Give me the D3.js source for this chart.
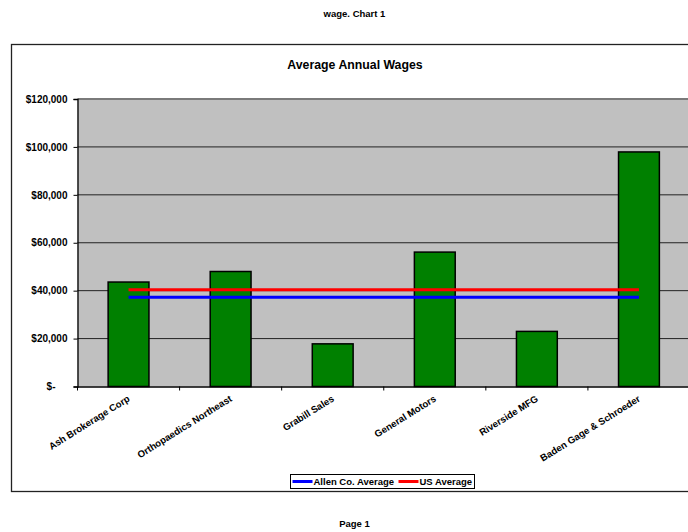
<!DOCTYPE html>
<html>
<head>
<meta charset="utf-8">
<script src="https://cdn.jsdelivr.net/npm/d3@7"></script>
<style>
  body { margin: 0; background: #fff; }
  svg { display: block; font-family: "Liberation Sans", Arial, sans-serif; }
</style>
</head>
<body>
<div id="chart"></div>
<script>
// data
const companies = ["Ash Brokerage Corp", "Orthopaedics Northeast", "Grabill Sales", "General Motors", "Riverside MFG", "Baden Gage & Schroeder"];
const wages = [43600, 48000, 17800, 56100, 23000, 97900];
const allenAvg = [37300, 37300, 37300, 37300, 37300, 37300];
const usAvg = [40400, 40400, 40400, 40400, 40400, 40400];
const yTicks = [0, 20000, 40000, 60000, 80000, 100000, 120000];

const width = 688;
const height = 532;

const svg = d3.select("#chart")
    .append("svg")
    .attr("width", width)
    .attr("height", height);

// page header / footer
svg.append("text")
    .attr("x", 354.5).attr("y", 17)
    .attr("text-anchor", "middle")
    .style("font-size", "9.5px").style("font-weight", "bold")
    .text("wage. Chart 1");

svg.append("text")
    .attr("x", 354.5).attr("y", 526.5)
    .attr("text-anchor", "middle")
    .style("font-size", "9.5px").style("font-weight", "bold")
    .text("Page 1");

// chart frame
svg.append("rect")
    .attr("x", 11.5).attr("y", 44.5)
    .attr("width", 690).attr("height", 447)
    .attr("fill", "none")
    .attr("stroke", "#222")
    .attr("stroke-width", 1.3);

svg.append("text")
    .attr("x", 355).attr("y", 68.5)
    .attr("text-anchor", "middle")
    .style("font-size", "12.3px").style("font-weight", "bold")
    .text("Average Annual Wages");

// scales
const plotLeft = 77.5, plotRight = 690, plotTop = 99, plotBottom = 386.5;

const x = d3.scaleBand()
    .domain(companies)
    .range([plotLeft, plotRight])
    .paddingInner(0.6)
    .paddingOuter(0.3);

const xCat = d3.scaleBand().domain(companies).range([plotLeft, plotRight]);

const y = d3.scaleLinear()
    .domain([0, 120000])
    .range([plotBottom, plotTop]);

// plot area
svg.append("rect")
    .attr("x", plotLeft).attr("y", plotTop)
    .attr("width", plotRight - plotLeft).attr("height", plotBottom - plotTop)
    .attr("fill", "#c0c0c0");

// gridlines
svg.append("g")
    .selectAll("line")
    .data(yTicks.filter(d => d > 0))
    .join("line")
    .attr("x1", plotLeft).attr("x2", plotRight)
    .attr("y1", d => y(d)).attr("y2", d => y(d))
    .attr("stroke", d => d === 120000 ? "#7a7a7a" : "#222")
    .attr("stroke-width", d => d === 120000 ? 2 : 1);

// bars
svg.append("g")
    .selectAll("rect")
    .data(wages)
    .join("rect")
    .attr("x", (d, i) => x(companies[i]))
    .attr("y", d => y(d))
    .attr("width", x.bandwidth())
    .attr("height", d => y(0) - y(d))
    .attr("fill", "#008000")
    .attr("stroke", "#000")
    .attr("stroke-width", 1.5);

// average lines
const lineFunction = d3.line()
    .x((d, i) => xCat(companies[i]) + xCat.bandwidth() / 2)
    .y(d => y(d));

svg.append("path")
    .datum(allenAvg)
    .attr("d", lineFunction)
    .attr("fill", "none")
    .attr("stroke", "#0000ff")
    .attr("stroke-width", 3);

svg.append("path")
    .datum(usAvg)
    .attr("d", lineFunction)
    .attr("fill", "none")
    .attr("stroke", "#ff0000")
    .attr("stroke-width", 3);

// y axis
const yAxis = svg.append("g")
    .attr("transform", `translate(${plotLeft},0)`)
    .call(d3.axisLeft(y)
        .tickValues(yTicks)
        .tickSize(4)
        .tickPadding(6)
        .tickFormat(d => d === 0 ? "$-" : "$" + d3.format(",")(d)));

yAxis.select(".domain").attr("stroke", "#000").attr("stroke-width", 1.3);
yAxis.selectAll(".tick line").attr("stroke", "#000");
yAxis.selectAll(".tick text")
    .style("font-size", "10px").style("font-weight", "bold")
    .attr("fill", "#000")
    .attr("dx", d => d === 0 ? -12 : 0);

// x axis
const xAxis = svg.append("g")
    .attr("transform", `translate(0,${plotBottom})`)
    .call(d3.axisBottom(xCat).tickSize(0).tickFormat(""));
xAxis.select(".domain").attr("stroke", "#000").attr("stroke-width", 1.3);

svg.append("g")
    .selectAll("line")
    .data(d3.range(companies.length + 1))
    .join("line")
    .attr("x1", i => plotLeft + i * xCat.step())
    .attr("x2", i => plotLeft + i * xCat.step())
    .attr("y1", plotBottom).attr("y2", plotBottom + 4)
    .attr("stroke", "#000");

svg.append("g")
    .selectAll("text")
    .data(companies)
    .join("text")
    .attr("transform", d => `translate(${xCat(d) + xCat.bandwidth() / 2 + 2},${plotBottom + 14}) rotate(-32)`)
    .attr("text-anchor", "end")
    .style("font-size", "9.6px").style("font-weight", "bold")
    .text(d => d);

// legend
const legend = svg.append("g").attr("transform", "translate(290.5,474.5)");
legend.append("rect")
    .attr("width", 184).attr("height", 14)
    .attr("fill", "#fff").attr("stroke", "#000");

const legendItems = [
    { name: "Allen Co. Average", color: "#0000ff", x: 2 },
    { name: "US Average", color: "#ff0000", x: 108 }
];
legendItems.forEach(item => {
    legend.append("line")
        .attr("x1", item.x).attr("x2", item.x + 20)
        .attr("y1", 7).attr("y2", 7)
        .attr("stroke", item.color).attr("stroke-width", 3);
    legend.append("text")
        .attr("x", item.x + 21).attr("y", 10.5)
        .style("font-size", "9.5px").style("font-weight", "bold")
        .text(item.name);
});
</script>
</body>
</html>
